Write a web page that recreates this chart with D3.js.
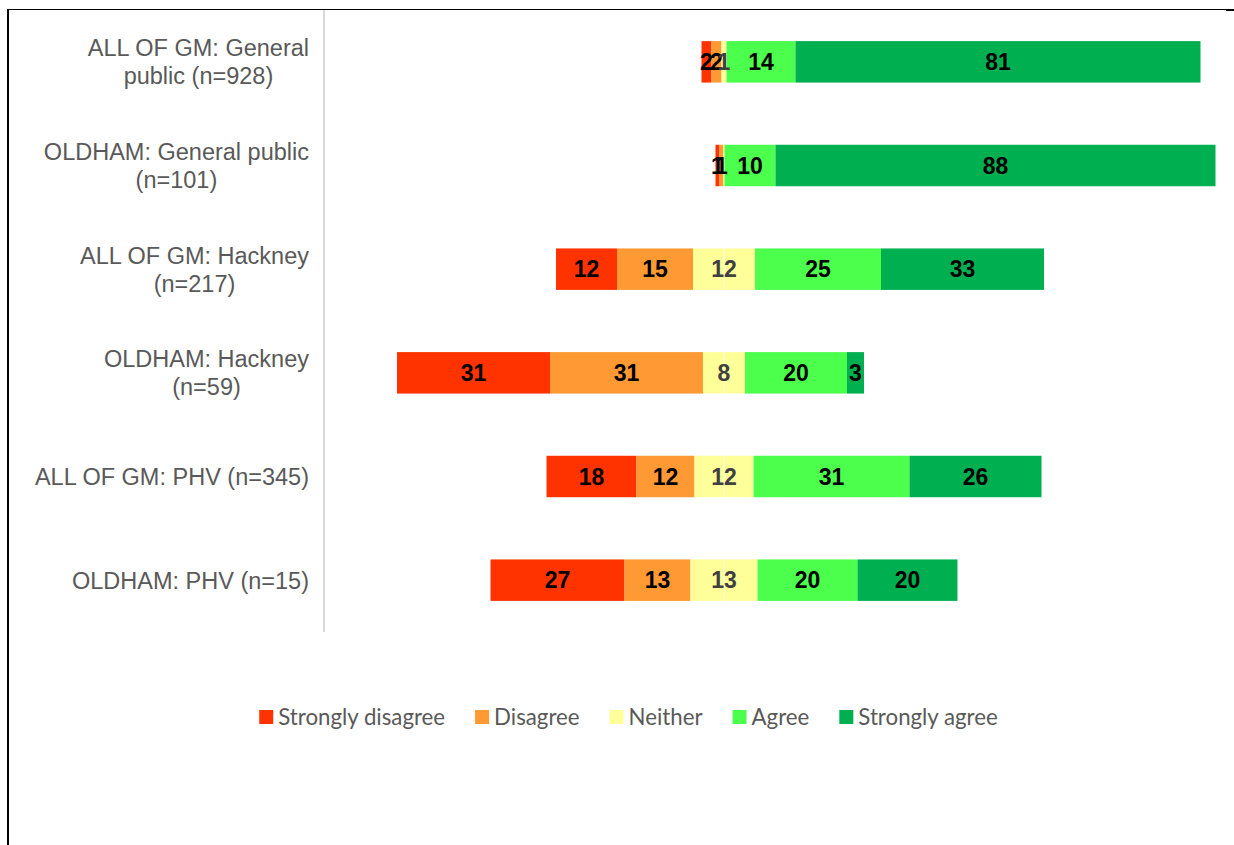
<!DOCTYPE html>
<head>
<script src="https://d3js.org/d3.v7.min.js"></script>
<meta charset="utf-8">
<style>
body { margin: 0; background: #fff; }
svg { display: block; }
.cat { font-family: "Liberation Sans", Arial, sans-serif; font-size: 23.5px; fill: #595959; }
.val { font-family: "Liberation Sans", Arial, sans-serif; font-size: 23px; font-weight: bold; }
.leg { font-family: Lato, "Open Sans", sans-serif; fill: #595959; }
</style>
</head>
<body>
<svg id="chart"></svg>
<script>

// data (labels are rounded)

let categories = [
    ["ALL OF GM: General", "public (n=928)"],
    ["OLDHAM: General public", "(n=101)"],
    ["ALL OF GM: Hackney", "(n=217)"],
    ["OLDHAM: Hackney", "(n=59)"],
    ["ALL OF GM: PHV (n=345)"],
    ["OLDHAM: PHV (n=15)"]
];
let seriesNames = ["Strongly disagree", "Disagree", "Neither", "Agree", "Strongly agree"];
let seriesColors = ["#ff3300", "#ff9933", "#ffff99", "#4cff4c", "#00b050"];
let stronglyDisagree = [2, 0.8, 12.2, 30.6, 18, 26.8];
let disagree =         [2, 0.8, 15.2, 30.6, 11.6, 13.2];
let neither =          [1, 0.2, 12.4, 8.4, 11.8, 13.4];
let agree =            [13.8, 10.2, 25.2, 20.4, 31.2, 20];
let stronglyAgree =    [81, 88, 32.6, 3.4, 26.4, 20];

// chart parameters
var width = 1234, height = 845;

var svg = d3.select("#chart")
    .attr("width", width)
    .attr("height", height);

let x = d3.scaleLinear().domain([-80, 100]).range([324, 1224]);
let y = d3.scaleBand()
    .domain(d3.range(categories.length))
    .range([10, 632])
    .paddingInner(0.6)
    .paddingOuter(0.3);

// build segments: neither is split around zero
let rows = categories.map((c, i) => {
    let vals = [stronglyDisagree[i], disagree[i], neither[i], agree[i], stronglyAgree[i]];
    let start = -(vals[0] + vals[1] + vals[2] / 2);
    let segs = [];
    vals.forEach((v, k) => {
        segs.push({row: i, k: k, x0: start, x1: start + v, v: v});
        start += v;
    });
    return segs;
});
let segs = rows.flat();

// outer frame
svg.append("line").attr("x1", 8).attr("x2", 1226).attr("y1", 9.5).attr("y2", 9.5)
    .attr("stroke", "#000").attr("stroke-width", 1);
svg.append("line").attr("x1", 1226).attr("x2", 1234).attr("y1", 10).attr("y2", 10)
    .attr("stroke", "#000").attr("stroke-width", 2);
svg.append("line").attr("x1", 8).attr("x2", 8).attr("y1", 9).attr("y2", height)
    .attr("stroke", "#000").attr("stroke-width", 2);

// vertical axis line
svg.append("line")
    .attr("x1", x(-80)).attr("x2", x(-80))
    .attr("y1", 10).attr("y2", 632)
    .attr("stroke", "#d9d9d9").attr("stroke-width", 2);

let barGroup = svg.append("g");
barGroup.selectAll("rect")
    .data(segs.filter(d => d.v > 0))
    .join("rect")
    .attr("x", d => x(d.x0))
    .attr("width", d => x(d.x1) - x(d.x0))
    .attr("y", d => y(d.row))
    .attr("height", y.bandwidth())
    .attr("fill", d => seriesColors[d.k]);

// faint split line in the middle of "neither"
barGroup.selectAll("line.mid")
    .data(segs.filter(d => d.k == 2 && d.v > 2))
    .join("line")
    .attr("class", "mid")
    .attr("x1", x(0)).attr("x2", x(0))
    .attr("y1", d => y(d.row)).attr("y2", d => y(d.row) + y.bandwidth())
    .attr("stroke", "#ffffff").attr("stroke-opacity", 0.6).attr("stroke-width", 1);

// value labels
svg.append("g").selectAll("text")
    .data(segs.filter(d => Math.round(d.v) > 0))
    .join("text")
    .attr("class", "val")
    .attr("x", d => x((d.x0 + d.x1) / 2))
    .attr("y", d => y(d.row) + y.bandwidth() / 2)
    .attr("dy", "0.36em")
    .attr("text-anchor", "middle")
    .attr("fill", d => d.k == 2 ? "#404040" : "#000")
    .text(d => Math.round(d.v));

// category labels, lines centred inside a right-aligned block
let catG = svg.append("g");
categories.forEach((lines, i) => {
    let t = catG.append("text").attr("class", "cat").attr("text-anchor", "middle");
    let cy = y(i) + y.bandwidth() / 2;
    let lh = 28;
    lines.forEach((ln, j) => {
        t.append("tspan")
            .attr("y", cy + (j - (lines.length - 1) / 2) * lh)
            .attr("dy", "0.36em")
            .text(ln);
    });
    let maxW = d3.max(t.selectAll("tspan").nodes(), n => n.getComputedTextLength());
    t.selectAll("tspan").attr("x", 309 - maxW / 2);
});

// legend
let leg = svg.append("g");
let probe = leg.append("text").attr("class", "leg").style("font-size", "20px").text(seriesNames[0]);
let fs = 20 * 167 / probe.node().getComputedTextLength();
probe.remove();
let items = seriesNames.map((name, k) => {
    let g = leg.append("g");
    g.append("rect").attr("width", 14).attr("height", 14).attr("y", 710).attr("fill", seriesColors[k]);
    let t = g.append("text").attr("class", "leg").style("font-size", fs + "px")
        .attr("x", 19).attr("y", 717).attr("dy", "0.35em").text(name);
    return {g: g, w: 19 + t.node().getComputedTextLength()};
});
let total = d3.sum(items, d => d.w) + 30 * (items.length - 1);
let lx = 628.5 - total / 2;
items.forEach(it => {
    it.g.attr("transform", `translate(${lx},0)`);
    lx += it.w + 30;
});

</script>
</body>
</html>
